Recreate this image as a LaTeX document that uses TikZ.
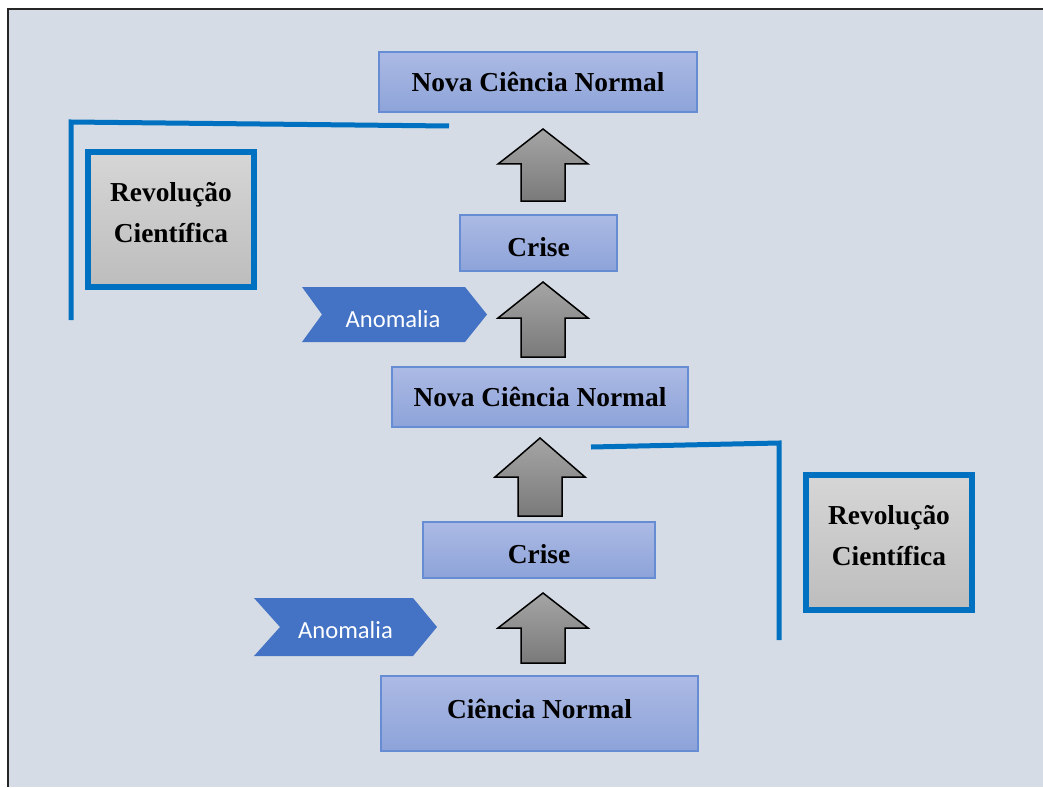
\documentclass[tikz,border=0pt]{standalone}
\usepackage{fontspec}
\setmainfont{Liberation Serif}
\newfontfamily\calibri{Carlito}
\usepackage{tikz}
\usetikzlibrary{positioning, calc}
\usepackage{xcolor}
\definecolor{canvas}{RGB}{214,220,229}
\definecolor{boxtop}{RGB}{172,186,228}
\definecolor{boxbot}{RGB}{141,163,217}
\definecolor{boxline}{RGB}{102,140,212}
\definecolor{anomblue}{RGB}{68,114,196}
\definecolor{revline}{RGB}{0,112,192}
\definecolor{revtop}{RGB}{214,214,214}
\definecolor{revbot}{RGB}{189,189,189}
\definecolor{arrtop}{RGB}{165,165,165}
\definecolor{arrbot}{RGB}{122,122,122}

\begin{document}
\begin{tikzpicture}[x=0.02cm, y=-0.02cm,
  stage/.style={draw=boxline, line width=0.03cm, top color=boxtop, bottom color=boxbot,
    font=\fontsize{15.6}{19}\selectfont\bfseries, inner sep=0pt},
  revbox/.style={draw=revline, line width=0.13cm, top color=revtop, bottom color=revbot,
    align=center, font=\fontsize{15.6}{22.8}\selectfont\bfseries, text depth=8pt,
    minimum width=3.32cm, minimum height=2.7cm},
  anom/.style={text=white, font=\calibri\fontsize{14}{17}\selectfont, inner sep=0pt},
  bracket/.style={revline, line width=0.1cm}]
  \useasboundingbox (0,0) rectangle (1043,787);
  \fill[white] (0,0) rectangle (1043,787);
  \fill[canvas] (8,9) rectangle (1043,787);
  \draw[black!85, line width=0.04cm] (8,787) -- (8,9) -- (1043,9);

  % stages, bottom to top
  \node[stage, minimum width=6.34cm, minimum height=1.5cm, text depth=5.5pt] (normal) at (539.5,713.5) {Ciência Normal};
  \node[stage, minimum width=4.64cm, minimum height=1.12cm, text height=15pt] (crise1) at (539,550) {Crise};
  \node[stage, minimum width=5.92cm, minimum height=1.2cm] (nova1) at (540,397) {Nova Ciência Normal};
  \node[stage, minimum width=3.14cm, minimum height=1.12cm, text height=15pt] (crise2) at (538.5,243) {Crise};
  \node[stage, minimum width=6.36cm, minimum height=1.2cm] (nova2) at (538,82) {Nova Ciência Normal};

  % block arrows: tip x / tip y / head base y / bottom y
  \foreach \tx/\ty/\hy/\by in {543/593/628/663, 540/438/477/516, 543/282/318/357, 543/129/164/201} {
    \draw[black, line width=0.03cm, top color=arrtop, bottom color=arrbot]
      (\tx,\ty) -- (\tx+45,\hy) -- (\tx+22,\hy) -- (\tx+22,\by) -- (\tx-22,\by)
      -- (\tx-22,\hy) -- (\tx-45,\hy) -- cycle;
  }

  % anomalies
  \fill[anomblue] (254,598) -- (413,598) -- (437,627) -- (413,656) -- (254,656) -- (280,627) -- cycle;
  \node[anom] (anom1) at (345.5,630) {Anomalia};
  \fill[anomblue] (302,287) -- (465,287) -- (487,314.5) -- (465,342) -- (302,342) -- (322,314.5) -- cycle;
  \node[anom] (anom2) at (393,319.5) {Anomalia};

  % revolutions
  \node[revbox] (rev1) at (889,542.5) {Revolução\\Científica};
  \draw[bracket] (591,447) -- (779,443) -- (779,640);
  \node[revbox] (rev2) at (171,219.5) {Revolução\\Científica};
  \draw[bracket] (71,320) -- (71,122) -- (449,126);
\end{tikzpicture}
\end{document}
